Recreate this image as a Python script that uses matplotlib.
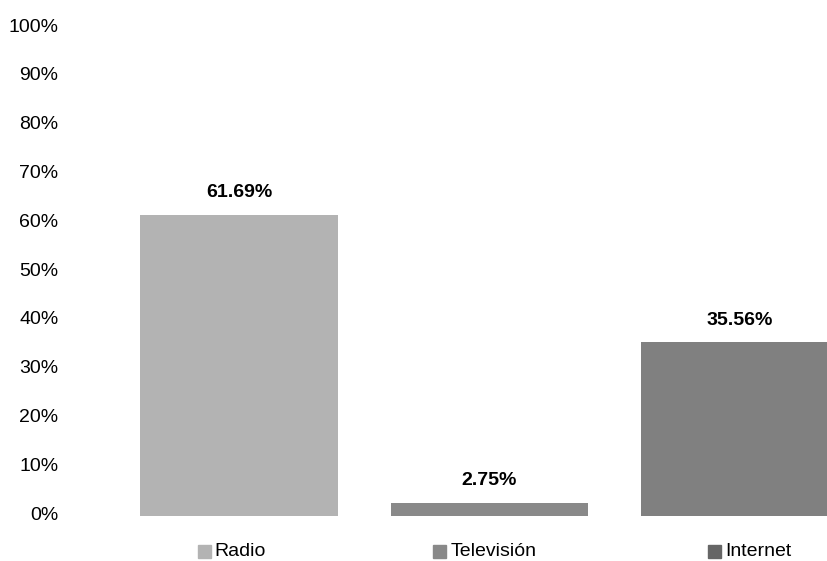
import matplotlib
matplotlib.use("Agg")
import matplotlib.pyplot as plt
from matplotlib.patches import Rectangle
from matplotlib.ticker import MultipleLocator, FuncFormatter
import matplotlib.transforms as mtransforms

categories = ["Radio", "Televisión", "Internet"]
values = [61.69, 2.75, 35.56]
bar_colors = ["#b3b3b3", "#898989", "#808080"]
legend_colors = ["#b3b3b3", "#898989", "#666666"]
value_labels = ["61.69%", "2.75%", "35.56%"]

plt.rcParams['font.family'] = ['Liberation Sans', 'DejaVu Sans']

W, H = 828, 561
fig = plt.figure(figsize=(W / 100, H / 100), dpi=100)
ax_left, ax_right = 75, 828
ax_top, ax_bottom = 28, 516
ax = fig.add_axes([ax_left / W, 1 - ax_bottom / H, (ax_right - ax_left) / W, (ax_bottom - ax_top) / H])

xs = list(range(len(categories)))
ax.bar(xs, values, width=0.79, color=bar_colors, clip_on=True)
for x, v, lab in zip(xs, values, value_labels):
    ax.annotate(lab, (x, v), xytext=(0, 10), textcoords="offset points",
                ha="center", va="bottom", fontsize=14, fontweight="bold", color="black")

px_per_unit = 250.5
c0 = 239
ax.set_xlim((ax_left - c0) / px_per_unit, (ax_right - c0) / px_per_unit)
ax.set_ylim(0, 100)
ax.yaxis.set_major_locator(MultipleLocator(10))
ax.yaxis.set_major_formatter(FuncFormatter(lambda v, p: f"{int(round(v))}%"))
ax.set_xticks([])
ax.tick_params(axis="y", length=0, labelsize=14, pad=12, labelcolor="black")
offset = mtransforms.ScaledTranslation(0, 3 / 100, fig.dpi_scale_trans)
for lbl in ax.get_yticklabels():
    lbl.set_transform(lbl.get_transform() + offset)
for s in ax.spines.values():
    s.set_visible(False)

# legend entries
sq = 13
entries = [(198, 214), (433, 451), (708, 725)]
yc = 551
for (sx, tx), col, name in zip(entries, legend_colors, categories):
    fig.patches.append(Rectangle((sx / W, 1 - (yc + sq / 2) / H), sq / W, sq / H,
                                 transform=fig.transFigure, color=col, figure=fig))
    fig.text(tx / W, 1 - yc / H, name, ha="left", va="center", fontsize=14, color="black")

fig.savefig("out.png", dpi=100)
